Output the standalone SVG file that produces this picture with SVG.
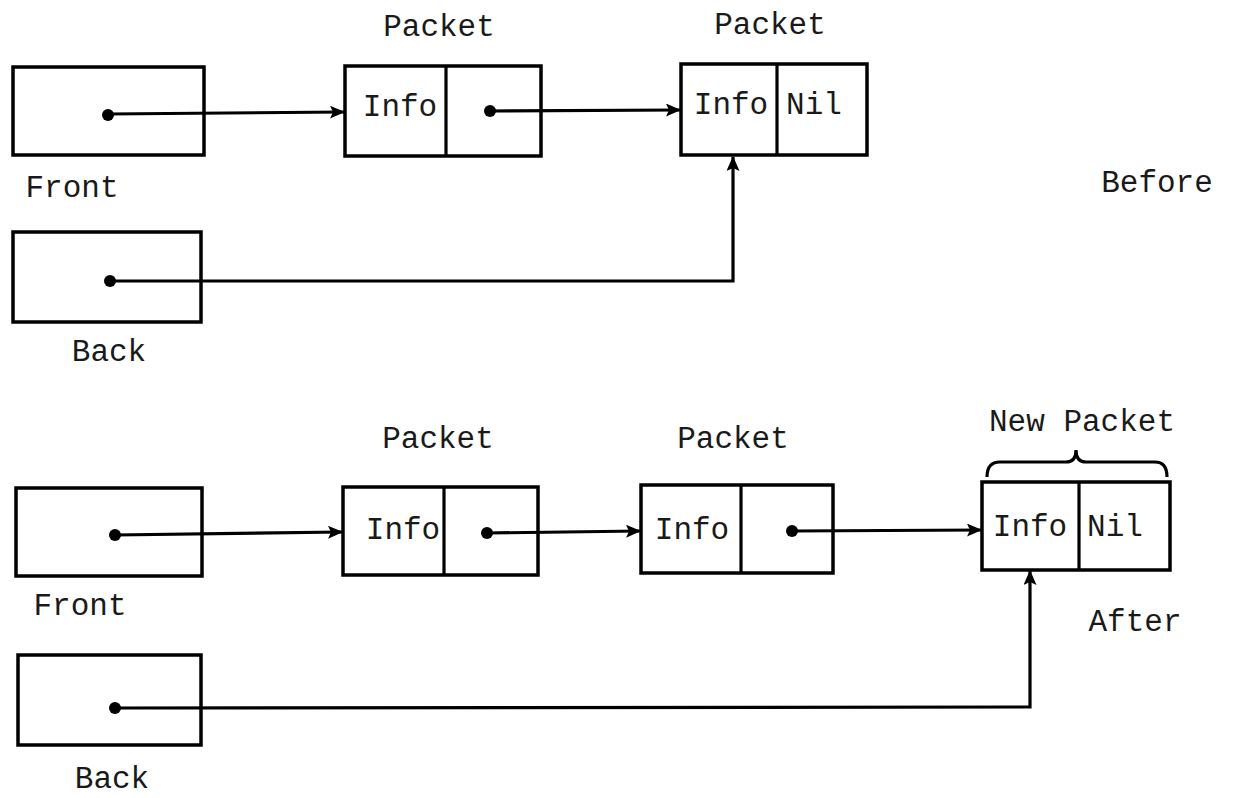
<svg xmlns="http://www.w3.org/2000/svg" width="1233" height="798" viewBox="0 0 1233 798">
<style>
.box{fill:none;stroke:#000;stroke-width:3.5}
.ln{fill:none;stroke:#000;stroke-width:3.2}
.dot{fill:#000}
text{font-family:"Liberation Mono","Courier New",monospace;font-size:31px;fill:#1a1a1a;text-anchor:middle}
</style>
<defs>
<marker id="ah" viewBox="0 0 15 13" refX="14" refY="6.5" markerWidth="15" markerHeight="13" markerUnits="userSpaceOnUse" orient="auto">
<path d="M0,0 L15,6.5 L0,13 L3,6.5 z" fill="#000"/>
</marker>
</defs>
<rect width="1233" height="798" fill="#fff"/>

<!-- Before -->
<g id="front1"><rect class="box" x="13" y="67" width="191" height="88"/><text x="72" y="197">Front</text></g>
<g id="back1"><rect class="box" x="13" y="232" width="188" height="90"/><text x="109" y="361">Back</text></g>
<g id="packet1a"><text x="439" y="36">Packet</text><rect class="box" x="345" y="66" width="196" height="90"/><line class="ln" x1="446" y1="66" x2="446" y2="156"/><text x="400" y="116">Info</text></g>
<g id="packet1b"><text x="770" y="34">Packet</text><rect class="box" x="681" y="64" width="186" height="91"/><line class="ln" x1="777" y1="64" x2="777" y2="155"/><text x="731" y="114">Info</text><text x="814" y="114">Nil</text></g>
<text id="before" x="1157" y="192">Before</text>

<!-- After -->
<g id="front2"><rect class="box" x="16" y="488" width="186" height="88"/><text x="80" y="615">Front</text></g>
<g id="back2"><rect class="box" x="18" y="655" width="183" height="90"/><text x="112" y="788">Back</text></g>
<g id="packet2a"><text x="438" y="448">Packet</text><rect class="box" x="343" y="487" width="195" height="88"/><line class="ln" x1="444" y1="487" x2="444" y2="575"/><text x="403" y="539">Info</text></g>
<g id="packet2b"><text x="733" y="448">Packet</text><rect class="box" x="641" y="485" width="192" height="88"/><line class="ln" x1="741" y1="485" x2="741" y2="573"/><text x="692" y="539">Info</text></g>
<g id="newpacket"><text x="1082" y="431">New Packet</text><path class="ln" d="M987,477 Q987,462 1000,462 L1066,462 Q1076,462 1076,450 Q1076,462 1086,462 L1155,462 Q1167,462 1167,477"/><rect class="box" x="982" y="482" width="188" height="88"/><line class="ln" x1="1079" y1="482" x2="1079" y2="570"/><text x="1030" y="536">Info</text><text x="1115" y="536">Nil</text></g>
<text id="after" x="1135" y="631">After</text>

<g id="connectors">
<circle class="dot" cx="108" cy="115" r="6"/>
<path class="ln" d="M108,114 L344,112" marker-end="url(#ah)"/>
<circle class="dot" cx="490" cy="111" r="6"/>
<path class="ln" d="M490,111 L680,110" marker-end="url(#ah)"/>
<circle class="dot" cx="110" cy="281" r="6"/>
<path class="ln" d="M110,281 L733,281 L733,157" marker-end="url(#ah)"/>

<circle class="dot" cx="115" cy="535" r="6"/>
<path class="ln" d="M115,535 L342,532" marker-end="url(#ah)"/>
<circle class="dot" cx="487" cy="533" r="6"/>
<path class="ln" d="M487,533 L640,531" marker-end="url(#ah)"/>
<circle class="dot" cx="792" cy="531" r="6"/>
<path class="ln" d="M792,531 L981,530" marker-end="url(#ah)"/>
<circle class="dot" cx="115" cy="708" r="6"/>
<path class="ln" d="M115,708 L1030,707 L1030,571" marker-end="url(#ah)"/>
</g>
</svg>
